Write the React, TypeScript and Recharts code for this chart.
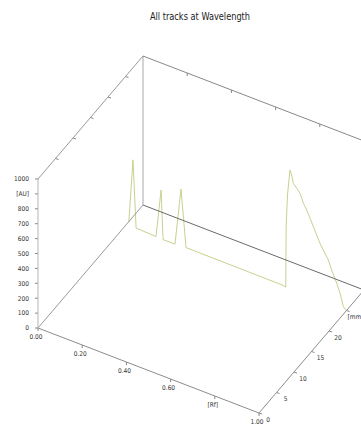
import { ScatterChart, Scatter, XAxis, YAxis } from "recharts";

// densitogram of one track, drawn as an oblique 3D box
const title = "All tracks at Wavelength";

const rfMax = 1;
const trackMax = 30;
const auMax = 1000;
const trackPos = 25;

const auTicks = [0, 100, 200, 300, 400, 500, 600, 700, 800, 900, 1000];
const auLabels = ["0", "100", "200", "300", "400", "500", "600", "700", "800", "[AU]", "1000"];
const rfTicks = [0, 0.2, 0.4, 0.6, 0.8, 1];
const rfLabels = ["0.00", "0.20", "0.40", "0.60", "[Rf]", "1.00"];
const trackTicks = [0, 5, 10, 15, 20, 25];
const trackLabels = ["0", "5", "10", "15", "20", "[mm]"];

const traceRf = [
  0.015, 0.034, 0.048, 0.138, 0.161, 0.17, 0.224, 0.251, 0.274, 0.708, 0.725, 0.727, 0.733,
  0.744, 0.752, 0.759, 0.775, 0.79, 0.805, 0.82, 0.835, 0.85, 0.865, 0.88, 0.895, 0.918, 0.933,
  0.956, 0.971, 0.986, 0.998,
];
const traceAu = [
  30, 460, 10, 5, 330, 2, 3, 388, 8, 5, 0, 411, 623, 797, 768, 716, 692, 666, 608, 572, 525,
  477, 430, 382, 346, 292, 233, 157, 99, 17, 0,
];

// projection: pixels per unit along each data direction
const RF_DX = 221;
const RF_DY = 85;
const TR_DX = 3.5;
const TR_DY = -4.1;
const AU_PX = 0.149;
const ORIGIN_X = 38;
const ORIGIN_Y = 328;
const W = 361;
const H = 425;
const CHART_W = 372; // a bit wider than the page so the right edges fit the domain

const NARROW = "'Liberation Sans Narrow', 'Arial Narrow', 'DejaVu Sans Condensed', sans-serif";

function project(rf: number, tr: number, au: number) {
  return {
    x: RF_DX * rf + TR_DX * tr,
    y: au - (RF_DY * rf + TR_DY * tr) / AU_PX,
  };
}

const edge = (a: number[], b: number[]) => [project(a[0], a[1], a[2]), project(b[0], b[1], b[2])];

const edges = [
  { pts: edge([0, 0, 0], [0, 0, auMax]), color: "#b5b5b5" },
  { pts: edge([0, 0, 0], [rfMax, 0, 0]), color: "#8c8c8c" },
  { pts: edge([rfMax, 0, 0], [rfMax, trackMax, 0]), color: "#8c8c8c" },
  { pts: edge([0, 0, 0], [0, trackMax, 0]), color: "#9a9a9a" },
  { pts: edge([0, trackMax, 0], [rfMax, trackMax, 0]), color: "#6a6a6a" },
  { pts: edge([0, trackMax, 0], [0, trackMax, auMax]), color: "#a8a8a8" },
  { pts: edge([0, 0, auMax], [0, trackMax, auMax]), color: "#999999" },
  { pts: edge([0, trackMax, auMax], [rfMax, trackMax, auMax]), color: "#888888" },
];

const trace = traceRf.map((rf, i) => project(rf, trackPos, traceAu[i]));

const rfFrontTicks = rfTicks.map((rf, i) => ({ ...project(rf, 0, 0), label: rfLabels[i] }));
const rfTopTicks = rfTicks.slice(1, -1).map((rf) => project(rf, trackMax, auMax));
const trackFrontTicks = trackTicks.map((t, i) => ({ ...project(rfMax, t, 0), label: trackLabels[i] }));
const trackTopTicks = trackTicks.slice(1).map((t) => project(0, t, auMax));

const noDot = () => <g />;

const tickMark = (dx: number, dy: number) => (p: any) => (
  <line x1={p.cx} y1={p.cy} x2={p.cx + dx} y2={p.cy + dy} stroke="#888" strokeWidth={1} />
);

const tickText = (dx: number, dy: number) => (p: any) => (
  <text
    x={p.cx + dx}
    y={p.cy + dy}
    textAnchor="middle"
    dominantBaseline="middle"
    fontSize={6.5}
    fontFamily={NARROW}
    fill="#333"
  >
    {p.payload.label}
  </text>
);

export default function App() {
  return (
    <div style={{ position: "relative", width: W, height: H, overflow: "hidden", background: "#fff" }}>
      <style>{"body{margin:0}"}</style>
      <div
        style={{
          position: "absolute",
          top: 10,
          left: 0,
          width: 400,
          textAlign: "center",
          fontFamily: NARROW,
          fontSize: 11,
          color: "#222",
          transform: "scaleX(0.83)",
          transformOrigin: "200px 0",
        }}
      >
        {title}
      </div>
      <ScatterChart width={CHART_W} height={H} margin={{ top: 0, right: 0, bottom: 0, left: 0 }}>
        <XAxis type="number" dataKey="x" hide domain={[0, CHART_W - ORIGIN_X]} />
        <YAxis
          type="number"
          dataKey="y"
          width={ORIGIN_X}
          domain={[(ORIGIN_Y - H) / AU_PX, ORIGIN_Y / AU_PX]}
          ticks={auTicks}
          interval={0}
          tickFormatter={(v: number) => auLabels[auTicks.indexOf(v)] ?? ""}
          axisLine={false}
          tickSize={3}
          tickMargin={6}
          tickLine={{ stroke: "#888" }}
          tick={{ fontSize: 6.5, fontFamily: NARROW, fill: "#333" }}
        />
        <Scatter data={trace} line={{ stroke: "#c8d18f", strokeWidth: 1 }} shape={noDot} isAnimationActive={false} />
        {edges.map((e, i) => (
          <Scatter
            key={i}
            data={e.pts}
            line={{ stroke: e.color, strokeWidth: 1 }}
            shape={noDot}
            isAnimationActive={false}
          />
        ))}
        <Scatter data={rfFrontTicks} shape={tickMark(0, 3)} isAnimationActive={false} />
        <Scatter data={rfFrontTicks} shape={tickText(-2, 9.5)} isAnimationActive={false} />
        <Scatter data={rfTopTicks} shape={tickMark(0, 3)} isAnimationActive={false} />
        <Scatter data={trackFrontTicks} shape={tickMark(3, 1)} isAnimationActive={false} />
        <Scatter data={trackFrontTicks} shape={tickText(9, 7)} isAnimationActive={false} />
        <Scatter data={trackTopTicks} shape={tickMark(3, 1)} isAnimationActive={false} />
      </ScatterChart>
    </div>
  );
}
